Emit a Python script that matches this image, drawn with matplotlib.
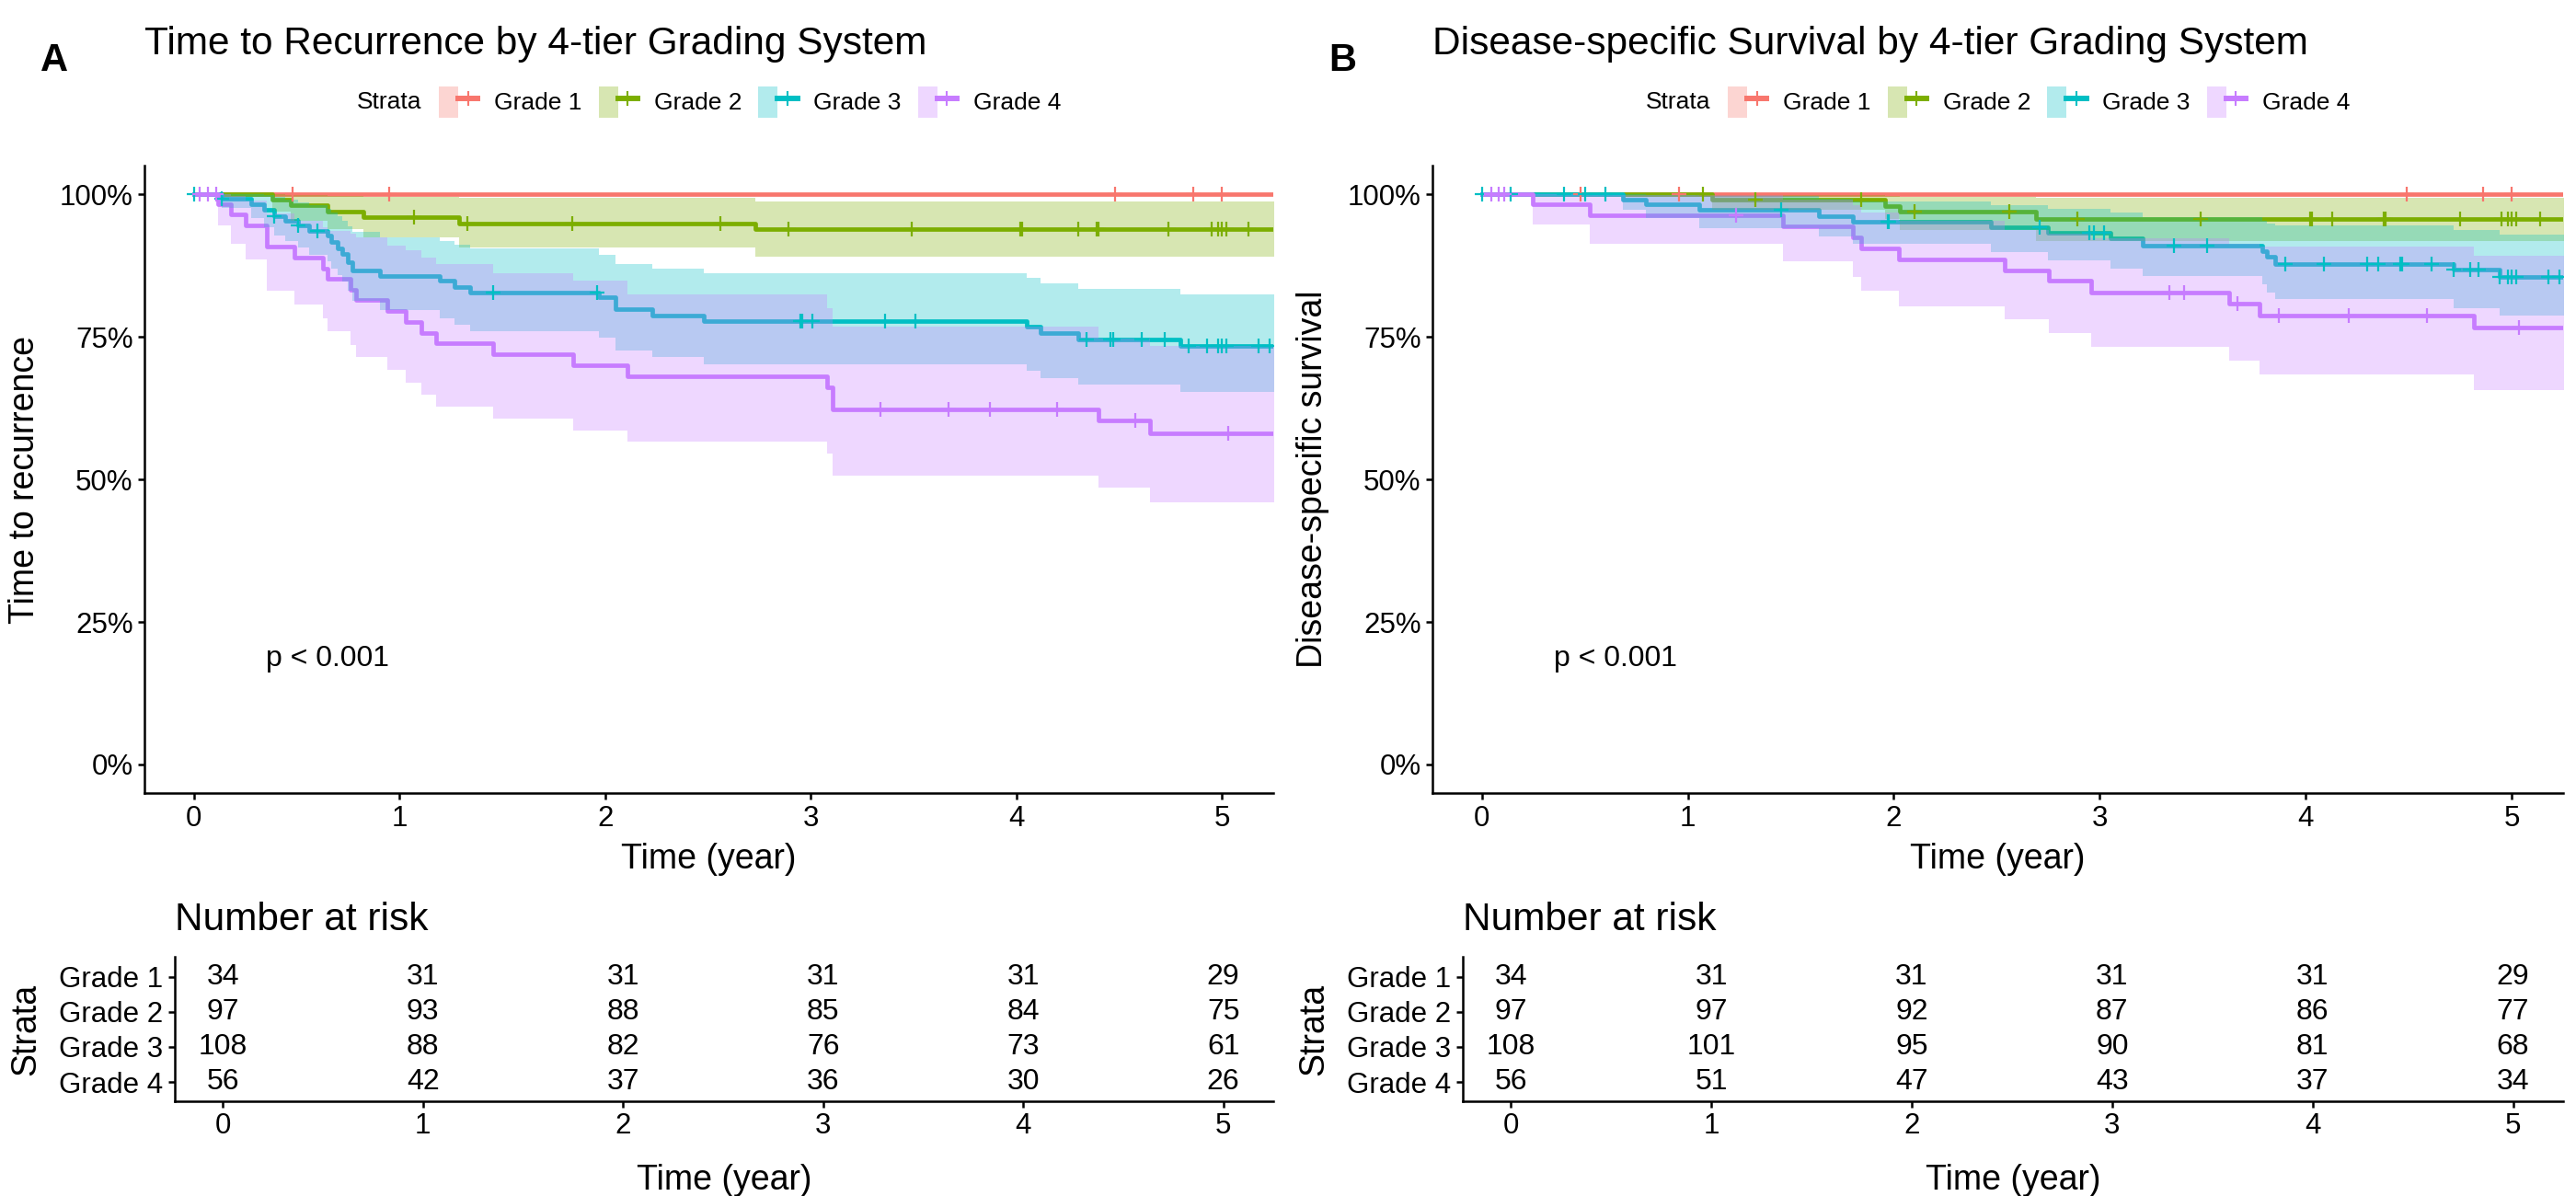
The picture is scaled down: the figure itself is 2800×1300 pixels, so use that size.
import numpy as np
import matplotlib
matplotlib.use("Agg")
import matplotlib.pyplot as plt
from matplotlib.lines import Line2D
from matplotlib.patches import Patch
from matplotlib.legend_handler import HandlerTuple

plt.rcParams['font.family'] = ['Liberation Sans', 'DejaVu Sans']

# ======================
# DATA
# ======================
GRADES = ["Grade 1", "Grade 2", "Grade 3", "Grade 4"]
COLORS = ["#F8766D", "#7CAE00", "#00BFC4", "#C77CFF"]
RISK_TIMES = [0, 1, 2, 3, 4, 5]
FOLLOW_UP_END = 5.3   # curves run past the axis end

# ---- panel A: time to recurrence (KM, %), step times in years
ttr_g1_t = [0]
ttr_g1_s = [100]
ttr_g1_lo = [100]
ttr_g1_hi = [100]
ttr_g1_cens = [0.48, 0.95, 4.48, 4.86, 5.00]

ttr_g2_t = [0, 0.38, 0.47, 0.65, 0.825, 1.29, 2.73]
ttr_g2_s = [100, 99.0, 98.0, 97.0, 95.9, 94.9, 93.8]
ttr_g2_lo = [100, 97.0, 95.3, 93.8, 92.4, 90.7, 89.1]
ttr_g2_hi = [100, 100, 99.9, 99.7, 99.5, 99.3, 98.7]
ttr_g2_cens = [1.07, 1.33, 1.84, 2.56, 2.89, 3.49, 4.02, 4.03, 4.30, 4.39,
               4.40, 4.74, 4.95, 4.98, 5.00, 5.02, 5.13]

ttr_g3_t = [0, 0.135, 0.28, 0.34, 0.39, 0.445, 0.505, 0.56, 0.65, 0.67, 0.70,
            0.72, 0.75, 0.77, 0.905, 1.195, 1.27, 1.345, 1.97, 2.05, 2.23,
            2.48, 4.05, 4.12, 4.30, 4.80]
ttr_g3_s = [100, 99.2, 98.3, 97.2, 96.1, 95.3, 94.5, 93.5, 92.7, 91.6, 90.5,
            89.5, 88.1, 86.6, 85.7, 84.8, 83.7, 82.7, 81.9, 79.8, 78.7,
            77.7, 76.8, 75.7, 74.5, 73.4]
ttr_g3_lo = [100, 97.6, 95.8, 94.2, 92.8, 91.7, 90.6, 89.3, 88.2, 87.0, 85.8,
             84.6, 83.0, 81.3, 79.6, 78.3, 77.1, 76.0, 74.9, 72.6, 71.4,
             70.2, 69.0, 67.8, 66.6, 65.3]
ttr_g3_hi = [100, 100, 100, 99.9, 99.5, 99.1, 98.6, 98.0, 97.5, 96.8, 96.1,
             95.4, 94.4, 93.4, 92.5, 91.8, 91.1, 90.5, 89.4, 87.8, 87.0,
             86.2, 85.3, 84.3, 83.4, 82.4]
ttr_g3_cens = [0.0, 0.135, 0.39, 0.505, 0.60, 1.455, 1.96, 2.95, 2.96, 3.01,
               3.36, 3.51, 4.34, 4.46, 4.47, 4.61, 4.72, 4.84, 4.93, 4.98,
               5.00, 5.02, 5.18, 5.23]

ttr_g4_t = [0, 0.12, 0.18, 0.25, 0.357, 0.49, 0.63, 0.65, 0.763, 0.79, 0.943,
            1.03, 1.107, 1.178, 1.455, 1.843, 2.11, 3.08, 3.105, 4.40, 4.65]
ttr_g4_s = [100, 98.3, 96.4, 94.5, 90.8, 88.9, 87.0, 85.1, 83.2, 81.4, 79.5,
            77.6, 75.7, 73.9, 71.9, 70.0, 68.1, 66.2, 62.3, 60.4, 58.1]
ttr_g4_lo = [100, 94.5, 91.3, 88.5, 83.1, 80.6, 78.3, 75.9, 73.6, 71.4, 69.2,
             67.0, 64.9, 62.8, 60.7, 58.6, 56.6, 54.5, 50.6, 48.5, 46.0]
ttr_g4_hi = [100, 100, 99.7, 98.8, 96.6, 95.3, 94.2, 93.6, 93.0, 92.4, 91.0,
             90.2, 88.9, 87.8, 86.2, 84.9, 82.4, 80.0, 76.8, 74.7, 73.4]
ttr_g4_cens = [0.03, 0.07, 0.11, 3.34, 3.67, 3.87, 4.20, 4.58, 5.03]

ttr_risk_g1 = [34, 31, 31, 31, 31, 29]
ttr_risk_g2 = [97, 93, 88, 85, 84, 75]
ttr_risk_g3 = [108, 88, 82, 76, 73, 61]
ttr_risk_g4 = [56, 42, 37, 36, 30, 26]

# ---- panel B: disease-specific survival
dss_g1_t = [0]
dss_g1_s = [100]
dss_g1_lo = [100]
dss_g1_hi = [100]
dss_g1_cens = [0.48, 0.955, 4.49, 4.86, 5.00]

dss_g2_t = [0, 1.12, 1.96, 2.03, 2.69]
dss_g2_s = [100, 99.0, 97.9, 96.9, 95.7]
dss_g2_lo = [100, 97.3, 95.6, 93.7, 91.8]
dss_g2_hi = [100, 99.9, 99.7, 99.5, 99.3]
dss_g2_cens = [1.075, 1.326, 1.84, 2.10, 2.56, 2.89, 3.49, 4.02, 4.03, 4.13,
               4.38, 4.39, 4.75, 4.95, 4.98, 5.00, 5.02, 5.14]

dss_g3_t = [0, 0.685, 0.796, 1.055, 1.634, 1.80, 2.47, 2.75, 3.05, 3.21,
            3.79, 3.81, 3.85, 4.72, 4.94]
dss_g3_s = [100, 99.1, 98.15, 97.2, 96.2, 95.2, 94.2, 93.2, 92.2, 91.0,
            90.0, 89.1, 87.8, 86.7, 85.5]
dss_g3_lo = [100, 97.3, 95.8, 94.0, 92.6, 91.3, 89.9, 88.4, 87.0, 85.7,
             84.2, 82.8, 81.6, 80.0, 78.7]
dss_g3_hi = [100, 100, 99.9, 99.6, 99.2, 98.7, 98.0, 97.4, 96.7, 95.9,
             95.3, 94.8, 94.5, 93.7, 92.9]
dss_g3_cens = [0.0, 0.14, 0.40, 0.50, 0.60, 1.454, 1.97, 1.975, 2.71, 2.95,
               2.97, 3.02, 3.36, 3.52, 3.90, 4.09, 4.30, 4.35, 4.46, 4.47,
               4.61, 4.72, 4.80, 4.84, 4.94, 4.98, 5.00, 5.02, 5.18, 5.23]

dss_g4_t = [0, 0.246, 0.523, 1.46, 1.80, 1.84, 2.027, 2.54, 2.755, 2.96,
            3.63, 3.775, 4.815]
dss_g4_s = [100, 98.3, 96.3, 94.35, 92.5, 90.5, 88.5, 86.6, 84.8, 82.8,
            80.85, 78.7, 76.6]
dss_g4_lo = [100, 94.6, 91.3, 88.3, 85.5, 83.0, 80.4, 78.0, 75.6, 73.2,
             70.8, 68.4, 65.7]
dss_g4_hi = [100, 100, 99.9, 99.0, 98.0, 96.8, 95.3, 93.7, 93.0, 92.2,
             91.3, 90.8, 89.2]
dss_g4_cens = [0.045, 0.08, 0.11, 1.232, 3.34, 3.41, 3.67, 3.87, 4.21, 4.59,
               5.035]

dss_risk_g1 = [34, 31, 31, 31, 31, 29]
dss_risk_g2 = [97, 97, 92, 87, 86, 77]
dss_risk_g3 = [108, 101, 95, 90, 81, 68]
dss_risk_g4 = [56, 51, 47, 43, 37, 34]

# ======================
# HELPERS
# ======================
W, H = 2800, 1300


def rect(x0, y0, x1, y1):
    # pixel box (from top-left) -> figure fraction
    return [x0 / W, 1 - y1 / H, (x1 - x0) / W, (y1 - y0) / H]


def style_axes(ax):
    for side in ["top", "right"]:
        ax.spines[side].set_visible(False)
    for side in ["left", "bottom"]:
        ax.spines[side].set_linewidth(1.8)
    ax.tick_params(length=5, width=1.8, labelsize=22.5, pad=4, color="black")
    ax.set_xlim(-0.24, 5.25)
    ax.set_xticks(RISK_TIMES)


def draw_km(ax, t, s, lo, hi, cens, color):
    t_full = np.append(t, FOLLOW_UP_END)
    s_full = np.append(s, s[-1])
    lo_full = np.append(lo, lo[-1])
    hi_full = np.append(hi, hi[-1])
    ax.step(t_full, s_full, where="post", color=color, lw=3.4, zorder=2)
    ax.fill_between(t_full, lo_full, hi_full, step="post", color=color,
                    alpha=0.3, lw=0, zorder=3)
    idx = np.searchsorted(t, cens, side="right") - 1
    ax.plot(cens, np.asarray(s)[idx], ls="none", marker="+", ms=12, mew=1.6,
            color=color, zorder=4)


def draw_panel(x0, x1, letter, title, ylabel, curves, risks):
    ax = fig.add_axes(rect(x0, 180, x1, 862))
    style_axes(ax)
    for (t, s, lo, hi, cens), col in zip(curves, COLORS):
        draw_km(ax, t, s, lo, hi, cens, col)
    ax.set_ylim(-5, 105)
    ax.set_yticks([0, 25, 50, 75, 100])
    ax.set_yticklabels(["0%", "25%", "50%", "75%", "100%"])
    ax.set_xlabel("Time (year)", fontsize=27)
    ax.xaxis.set_label_coords(0.5, -0.079)
    ax.set_ylabel(ylabel, fontsize=27)
    ax.yaxis.set_label_coords(-0.091, 0.5)
    ax.text(0.35, 18.5, "p < 0.001", fontsize=23, ha="left", va="center")

    fig.text(x0 / W, 1 - 48 / H, title, fontsize=30.5, ha="left", va="center")
    fig.text((x0 - 98) / W, 1 - 66 / H, letter, fontsize=30, weight="bold",
             ha="center", va="center")

    # legend on top
    handles = [(Patch(facecolor=c, alpha=0.3, edgecolor="none"),
                Line2D([], [], color=c, lw=4.3, marker="+", ms=12, mew=1.5))
               for c in COLORS]
    leg = fig.legend(handles, GRADES, ncol=4, loc="center left",
                     bbox_to_anchor=(0, 1 - 110.7 / H), frameon=False,
                     fontsize=19, handlelength=1.6, handleheight=1.6,
                     handletextpad=0.68, columnspacing=0.68, borderpad=0,
                     borderaxespad=0, numpoints=1,
                     handler_map={tuple: HandlerTuple(ndivide=None)})
    lab = fig.text(0, 1 - 110.7 / H, "Strata", fontsize=19, ha="left",
                   va="center")
    fig.canvas.draw()
    r = fig.canvas.get_renderer()
    w_leg = leg.get_window_extent(r).width
    w_lab = lab.get_window_extent(r).width
    gap = 19
    start = (x0 + x1) / 2 - (w_lab + gap + w_leg) / 2
    lab.set_x(start / W)
    leg.set_bbox_to_anchor(((start + w_lab + gap) / W, 1 - 110.7 / H),
                           transform=fig.transFigure)

    # number at risk table
    tx0 = x0 + 33
    tab = fig.add_axes(rect(tx0, 1040, x1, 1197))
    style_axes(tab)
    tab.set_ylim(0.45, 4.57)
    tab.set_yticks([4, 3, 2, 1])
    tab.set_yticklabels(GRADES)
    for row, counts in zip([4, 3, 2, 1], risks):
        for tt, n in zip(RISK_TIMES, counts):
            tab.text(tt, row, str(n), fontsize=23, ha="center", va="center")
    tab.set_xlabel("Time (year)", fontsize=27)
    tab.xaxis.set_label_coords(0.5, -0.43)
    tab.set_ylabel("Strata", fontsize=27)
    tab.yaxis.set_label_coords(-0.12, 0.5)
    fig.text(tx0 / W, 1 - 1000 / H, "Number at risk", fontsize=30.5,
             ha="left", va="center")


# ======================
# DRAW
# ======================
fig = plt.figure(figsize=(28, 13), dpi=100)

draw_panel(157, 1384, "A", "Time to Recurrence by 4-tier Grading System",
           "Time to recurrence",
           [(ttr_g1_t, ttr_g1_s, ttr_g1_lo, ttr_g1_hi, ttr_g1_cens),
            (ttr_g2_t, ttr_g2_s, ttr_g2_lo, ttr_g2_hi, ttr_g2_cens),
            (ttr_g3_t, ttr_g3_s, ttr_g3_lo, ttr_g3_hi, ttr_g3_cens),
            (ttr_g4_t, ttr_g4_s, ttr_g4_lo, ttr_g4_hi, ttr_g4_cens)],
           [ttr_risk_g1, ttr_risk_g2, ttr_risk_g3, ttr_risk_g4])

draw_panel(1557, 2786, "B", "Disease-specific Survival by 4-tier Grading System",
           "Disease-specific survival",
           [(dss_g1_t, dss_g1_s, dss_g1_lo, dss_g1_hi, dss_g1_cens),
            (dss_g2_t, dss_g2_s, dss_g2_lo, dss_g2_hi, dss_g2_cens),
            (dss_g3_t, dss_g3_s, dss_g3_lo, dss_g3_hi, dss_g3_cens),
            (dss_g4_t, dss_g4_s, dss_g4_lo, dss_g4_hi, dss_g4_cens)],
           [dss_risk_g1, dss_risk_g2, dss_risk_g3, dss_risk_g4])

fig.savefig("out.png", dpi=100)
